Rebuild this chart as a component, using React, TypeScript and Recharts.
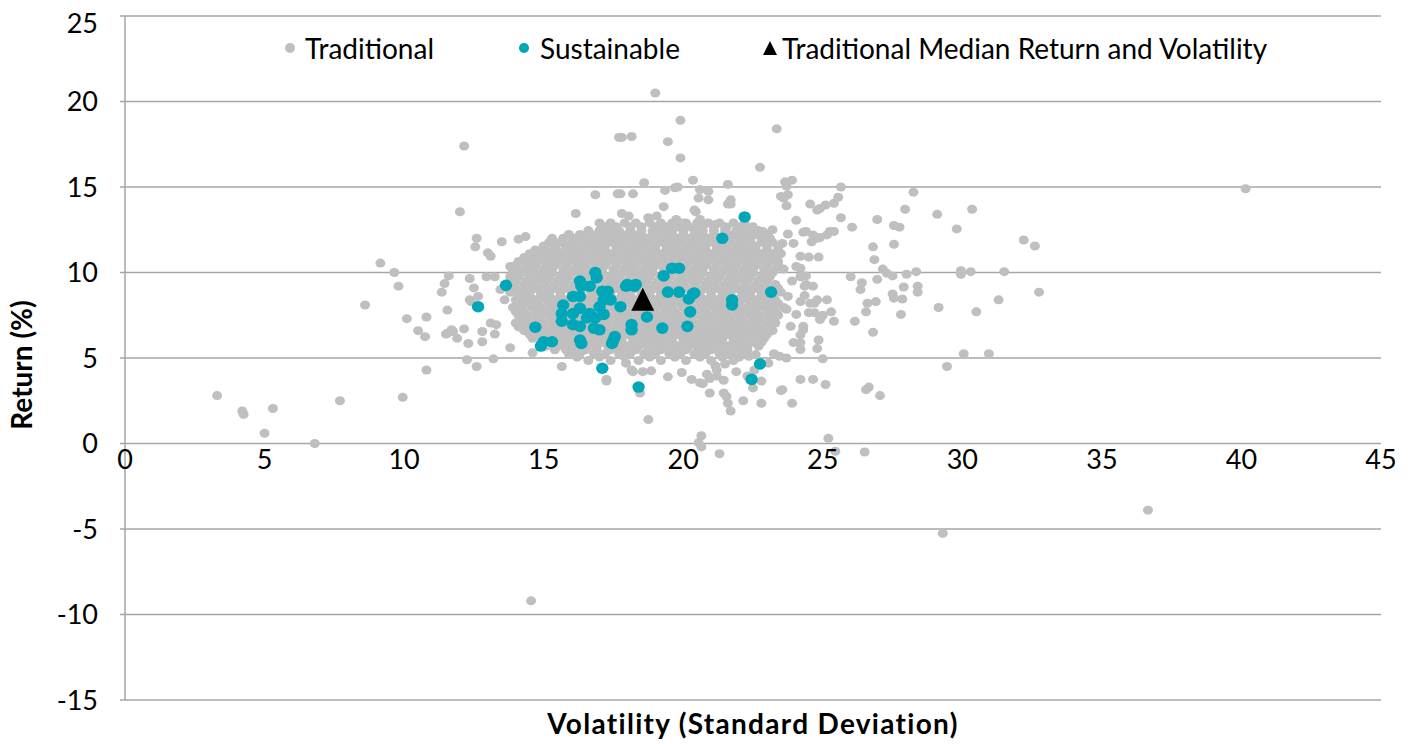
import React from "react";
import { ScatterChart, Scatter, XAxis, YAxis, CartesianGrid } from "recharts";

const FONT = "Lato, 'Open Sans', sans-serif";
const GRAY = "#bfbfbf";
const TEAL = "#00a7b8";
const GRID = "#a6a6a6";

const xTicks = [0, 5, 10, 15, 20, 25, 30, 35, 40, 45];
const yTicks = [-15, -10, -5, 0, 5, 10, 15, 20, 25];

// scattered traditional funds, read point by point
const traditionalOutliers: [number, number][] = [
  [3.3, 2.8], [4.2, 1.9], [4.25, 1.7], [5.3, 2.05], [5.0, 0.6], [6.8, 0.0], [7.7, 2.5], [9.95, 2.7],
  [10.8, 4.3], [8.6, 8.1], [9.15, 10.55], [9.65, 10.0], [9.8, 9.2], [10.1, 7.3], [10.8, 7.4],
  [10.5, 6.6], [10.75, 6.25], [11.55, 7.8], [11.6, 9.8], [11.45, 9.35], [11.35, 8.85], [11.5, 6.4],
  [11.7, 6.65], [11.9, 6.15], [12.15, 6.7], [12.3, 5.85], [12.25, 4.9], [12.6, 4.5], [12.35, 9.65],
  [12.5, 9.1], [12.35, 8.4], [12.55, 11.5], [12.6, 12.0], [12.15, 17.4], [12.0, 13.55], [13.5, 11.8],
  [14.1, 11.95], [14.35, 12.1], [16.15, 13.45], [16.85, 14.55], [17.7, 17.9], [17.65, 14.6],
  [12.65, 8.6], [12.4, 8.3], [12.95, 9.75], [13.25, 9.75], [13.45, 9.0], [13.6, 8.4], [11.55, 6.45],
  [11.75, 6.55], [12.8, 6.55], [13.3, 6.95], [13.1, 7.05], [12.8, 5.95], [13.25, 6.4], [13.8, 5.6],
  [13.2, 4.95], [14.6, 5.3], [15.65, 4.5], [17.25, 3.75], [17.95, 4.7], [18.2, 4.2],
  [13.0, 11.15], [13.1, 10.95], [13.8, 10.35], [14.1, 10.15], [14.5, 10.95], [14.85, 11.15],
  [15.15, 10.95], [15.45, 11.35], [15.8, 10.95], [15.95, 12.0], [16.3, 12.05], [16.65, 11.8],
  [19.3, 13.85], [20.4, 13.65],
  [19.0, 20.5], [19.9, 18.9], [17.8, 17.9], [18.15, 17.95], [19.45, 17.65], [19.9, 16.7], [23.35, 18.4],
  [22.75, 16.15], [18.6, 15.25], [20.35, 15.4], [21.6, 15.15], [17.75, 14.6], [18.2, 14.6],
  [19.35, 14.8], [19.8, 15.0], [20.6, 14.85], [20.9, 14.75], [20.55, 14.35], [20.9, 14.25],
  [21.7, 14.25], [21.6, 14.0], [23.9, 15.4], [23.7, 15.05], [23.75, 14.55], [23.6, 14.35],
  [23.7, 13.9], [24.55, 14.0], [24.8, 13.65], [25.1, 13.95], [25.4, 14.05], [25.55, 14.4],
  [25.65, 15.0], [25.65, 13.2], [24.05, 13.05], [17.8, 13.45], [18.05, 13.3], [18.75, 13.2],
  [19.05, 13.3], [20.45, 13.55], [19.7, 14.95], [21.7, 14.0], [23.5, 14.45], [24.9, 13.75],
  [19.75, 13.1], [20.1, 12.9], [20.6, 13.1], [21.15, 12.8], [21.55, 12.65], [22.0, 12.6],
  [22.4, 12.35], [22.85, 12.4], [23.2, 12.5],
  [28.25, 14.7], [27.95, 13.7], [29.1, 13.4], [30.35, 13.7], [26.95, 13.1], [26.05, 12.65],
  [27.55, 12.75], [27.75, 12.65], [29.8, 12.55], [32.2, 11.9], [32.6, 11.55], [24.4, 12.4],
  [24.65, 12.2], [24.8, 12.0], [24.6, 11.8], [25.15, 12.2], [25.4, 12.4], [26.8, 11.5], [27.55, 11.65],
  [26.85, 10.75], [24.2, 10.95], [24.5, 10.9], [24.85, 10.9], [24.2, 10.25], [27.15, 10.2],
  [27.3, 9.95], [27.5, 9.8], [28.0, 9.9], [28.35, 10.05], [29.95, 10.1], [29.95, 9.9], [30.3, 10.05],
  [31.5, 10.05], [26.0, 9.75], [24.4, 9.8], [26.95, 9.6], [26.4, 9.4], [26.35, 9.0], [27.9, 9.15],
  [28.4, 9.2], [28.4, 8.85], [27.5, 8.75], [27.55, 8.5], [27.85, 8.45], [24.4, 9.3], [24.65, 9.2],
  [24.35, 8.65], [24.7, 8.2], [25.15, 8.4], [26.9, 8.3], [26.6, 8.2], [26.55, 7.7], [27.8, 7.55],
  [29.15, 7.95], [30.5, 7.7], [31.3, 8.4], [32.75, 8.85], [24.7, 7.65], [25.0, 7.5], [25.3, 7.7],
  [25.4, 7.15], [26.15, 7.15], [24.3, 6.85], [26.8, 6.5], [24.2, 5.9], [24.85, 6.05], [24.8, 5.55],
  [25.0, 4.95], [30.05, 5.25], [30.95, 5.25], [29.45, 4.5], [24.65, 3.75], [25.1, 3.45],
  [26.55, 3.15], [26.65, 3.3], [27.05, 2.8], [40.15, 14.9], [36.65, -3.9], [29.3, -5.25], [14.55, -9.2],
  [23.65, 15.3], [24.3, 12.35], [24.9, 12.05], [25.25, 12.4], [23.75, 12.25], [23.55, 11.7],
  [23.95, 11.7], [24.05, 10.35], [24.2, 9.75], [23.9, 9.5], [24.35, 9.2], [23.75, 8.6], [24.2, 8.3],
  [24.55, 8.2], [24.8, 8.4], [23.7, 7.85], [24.05, 7.55], [24.5, 7.65], [24.9, 7.25], [23.85, 6.85],
  [24.2, 6.35], [24.3, 6.65], [23.95, 5.9], [24.2, 5.5], [23.45, 5.1], [23.7, 5.0],
  [20.65, 0.45], [20.55, 0.05], [20.65, -0.2], [21.3, -0.6], [25.2, 0.3], [25.45, -0.45], [26.5, -0.5],
  [18.75, 1.4], [21.7, 1.9], [21.6, 2.35], [21.55, 2.75], [21.45, 2.95], [22.15, 2.5], [22.8, 2.35],
  [23.9, 2.35], [23.5, 3.1], [20.95, 2.95], [20.7, 3.5], [20.3, 3.75], [19.95, 4.15], [19.45, 3.9],
  [20.85, 4.05], [21.2, 3.95], [21.45, 3.7], [21.9, 4.2], [22.5, 3.25], [22.8, 3.65], [21.15, 4.55],
  [21.5, 4.65], [18.45, 2.95], [17.25, 3.65], [18.15, 4.3], [18.55, 4.2], [18.85, 4.25],
  [20.6, 3.55], [20.95, 3.8], [21.2, 4.3], [22.3, 3.95], [22.55, 4.3], [23.55, 3.15], [24.2, 3.75],
  [23.05, 4.7], [23.25, 5.25], [22.35, 5.1], [22.6, 5.2],
];

// dense middle of the cloud, one row per return level
const traditionalCore: [number, number[]][] = [
  [12.9, [17.0, 17.4, 17.9, 18.3, 18.8, 19.2, 19.6, 20.0, 20.5, 20.9, 21.3, 21.8, 22.2]],
  [12.68, [17.2, 17.6, 18.1, 18.5, 19.0, 19.4, 19.8, 20.2, 20.7, 21.1, 21.5, 22.0, 22.5]],
  [12.45, [16.6, 17.0, 17.4, 17.7, 18.1, 18.5, 18.9, 19.2, 19.6, 20.0, 20.4, 20.7, 21.1, 21.5, 21.9, 22.3, 22.7]],
  [12.22, [15.9, 16.3, 16.7, 17.1, 17.4, 17.8, 18.2, 18.5, 18.9, 19.3, 19.6, 20.0, 20.4, 20.7, 21.1, 21.5, 21.8, 22.2, 22.6, 23.0]],
  [12.0, [15.3, 15.7, 16.1, 16.5, 16.9, 17.2, 17.6, 18.0, 18.3, 18.7, 19.1, 19.4, 19.8, 20.2, 20.5, 20.9, 21.3, 21.6, 22.0, 22.4, 22.8, 23.1]],
  [11.78, [15.2, 15.6, 16.0, 16.3, 16.7, 17.0, 17.4, 17.8, 18.1, 18.5, 18.8, 19.2, 19.6, 19.9, 20.3, 20.6, 21.0, 21.4, 21.7, 22.1, 22.4, 22.8, 23.2]],
  [11.55, [15.0, 15.4, 15.8, 16.1, 16.5, 16.8, 17.2, 17.6, 17.9, 18.3, 18.6, 19.0, 19.4, 19.7, 20.1, 20.4, 20.8, 21.2, 21.5, 21.9, 22.2, 22.6, 23.0, 23.4]],
  [11.32, [14.7, 15.1, 15.4, 15.8, 16.2, 16.5, 16.9, 17.2, 17.6, 18.0, 18.3, 18.7, 19.0, 19.4, 19.8, 20.1, 20.5, 20.8, 21.2, 21.6, 21.9, 22.3, 22.6, 23.0, 23.4]],
  [11.1, [14.5, 14.9, 15.2, 15.6, 16.0, 16.3, 16.7, 17.0, 17.4, 17.8, 18.1, 18.5, 18.8, 19.2, 19.6, 19.9, 20.3, 20.6, 21.0, 21.4, 21.7, 22.1, 22.4, 22.8, 23.2, 23.5]],
  [10.88, [14.3, 14.6, 15.0, 15.4, 15.7, 16.1, 16.4, 16.8, 17.2, 17.5, 17.9, 18.2, 18.6, 18.9, 19.3, 19.7, 20.0, 20.4, 20.7, 21.1, 21.5, 21.8, 22.2, 22.5, 22.9, 23.3]],
  [10.65, [14.1, 14.4, 14.8, 15.2, 15.5, 15.9, 16.2, 16.6, 17.0, 17.3, 17.7, 18.0, 18.4, 18.7, 19.1, 19.5, 19.8, 20.2, 20.5, 20.9, 21.3, 21.6, 22.0, 22.3, 22.7, 23.1, 23.4]],
  [10.42, [14.0, 14.4, 14.7, 15.1, 15.4, 15.8, 16.2, 16.5, 16.9, 17.2, 17.6, 18.0, 18.3, 18.7, 19.0, 19.4, 19.8, 20.1, 20.5, 20.8, 21.2, 21.6, 21.9, 22.3, 22.6, 23.0, 23.4]],
  [10.2, [13.9, 14.3, 14.6, 15.0, 15.3, 15.7, 16.1, 16.4, 16.8, 17.1, 17.5, 17.9, 18.2, 18.6, 18.9, 19.3, 19.7, 20.0, 20.4, 20.7, 21.1, 21.5, 21.8, 22.2, 22.5, 22.9, 23.3, 23.6]],
  [9.98, [13.9, 14.2, 14.6, 14.9, 15.3, 15.7, 16.0, 16.4, 16.7, 17.1, 17.5, 17.8, 18.2, 18.5, 18.9, 19.3, 19.6, 20.0, 20.3, 20.7, 21.1, 21.4, 21.8, 22.1, 22.5, 22.9, 23.2]],
  [9.75, [13.8, 14.1, 14.5, 14.9, 15.2, 15.6, 15.9, 16.3, 16.7, 17.0, 17.4, 17.7, 18.1, 18.5, 18.8, 19.2, 19.5, 19.9, 20.3, 20.6, 21.0, 21.3, 21.7, 22.1, 22.4, 22.8, 23.1]],
  [9.52, [14.0, 14.4, 14.7, 15.1, 15.5, 15.8, 16.2, 16.5, 16.9, 17.3, 17.6, 18.0, 18.3, 18.7, 19.1, 19.4, 19.8, 20.1, 20.5, 20.9, 21.2, 21.6, 21.9, 22.3, 22.7, 23.0]],
  [9.3, [13.9, 14.3, 14.6, 15.0, 15.4, 15.7, 16.1, 16.4, 16.8, 17.2, 17.5, 17.9, 18.2, 18.6, 19.0, 19.3, 19.7, 20.0, 20.4, 20.8, 21.1, 21.5, 21.8, 22.2, 22.6, 22.9, 23.3]],
  [9.08, [14.0, 14.4, 14.7, 15.1, 15.4, 15.8, 16.2, 16.5, 16.9, 17.2, 17.6, 18.0, 18.3, 18.7, 19.0, 19.4, 19.8, 20.1, 20.5, 20.8, 21.2, 21.6, 21.9, 22.3, 22.6, 23.0, 23.4]],
  [8.85, [13.8, 14.2, 14.5, 14.9, 15.2, 15.6, 16.0, 16.3, 16.7, 17.0, 17.4, 17.8, 18.1, 18.5, 18.8, 19.2, 19.6, 19.9, 20.3, 20.6, 21.0, 21.4, 21.7, 22.1, 22.4, 22.8, 23.2, 23.5]],
  [8.62, [14.1, 14.5, 14.9, 15.2, 15.6, 16.0, 16.3, 16.7, 17.0, 17.4, 17.8, 18.1, 18.5, 18.8, 19.2, 19.6, 19.9, 20.3, 20.6, 21.0, 21.4, 21.7, 22.1, 22.4, 22.8, 23.2]],
  [8.4, [14.0, 14.3, 14.7, 15.1, 15.4, 15.8, 16.1, 16.5, 16.9, 17.2, 17.6, 17.9, 18.3, 18.7, 19.0, 19.4, 19.7, 20.1, 20.5, 20.8, 21.2, 21.5, 21.9, 22.3, 22.6, 23.0, 23.3]],
  [8.18, [14.1, 14.5, 14.8, 15.2, 15.5, 15.9, 16.3, 16.6, 17.0, 17.3, 17.7, 18.1, 18.4, 18.8, 19.1, 19.5, 19.9, 20.2, 20.6, 20.9, 21.3, 21.7, 22.0, 22.4, 22.7, 23.1, 23.4]],
  [7.95, [13.9, 14.2, 14.6, 14.9, 15.3, 15.7, 16.0, 16.4, 16.7, 17.1, 17.5, 17.8, 18.2, 18.5, 18.9, 19.3, 19.6, 20.0, 20.3, 20.7, 21.1, 21.4, 21.8, 22.1, 22.5, 22.9, 23.2, 23.6]],
  [7.72, [14.0, 14.3, 14.7, 15.1, 15.4, 15.8, 16.1, 16.5, 16.9, 17.2, 17.6, 17.9, 18.3, 18.7, 19.0, 19.4, 19.7, 20.1, 20.5, 20.8, 21.2, 21.5, 21.9, 22.3, 22.6, 23.0, 23.3]],
  [7.5, [14.1, 14.4, 14.8, 15.2, 15.5, 15.9, 16.2, 16.6, 17.0, 17.3, 17.7, 18.0, 18.4, 18.8, 19.1, 19.5, 19.8, 20.2, 20.6, 20.9, 21.3, 21.6, 22.0, 22.4, 22.7, 23.1, 23.4]],
  [7.28, [14.2, 14.5, 14.9, 15.3, 15.6, 16.0, 16.3, 16.7, 17.1, 17.4, 17.8, 18.1, 18.5, 18.9, 19.2, 19.6, 19.9, 20.3, 20.7, 21.0, 21.4, 21.7, 22.1, 22.5, 22.8, 23.2]],
  [7.05, [14.0, 14.3, 14.7, 15.0, 15.4, 15.8, 16.1, 16.5, 16.8, 17.2, 17.6, 17.9, 18.3, 18.6, 19.0, 19.4, 19.7, 20.1, 20.4, 20.8, 21.2, 21.5, 21.9, 22.2, 22.6, 23.0, 23.3]],
  [6.82, [14.1, 14.5, 14.8, 15.2, 15.5, 15.9, 16.3, 16.6, 17.0, 17.3, 17.7, 18.1, 18.4, 18.8, 19.1, 19.5, 19.9, 20.2, 20.6, 20.9, 21.3, 21.7, 22.0, 22.4, 22.7, 23.1]],
  [6.6, [14.3, 14.6, 15.0, 15.3, 15.7, 16.1, 16.4, 16.8, 17.1, 17.5, 17.9, 18.2, 18.6, 18.9, 19.3, 19.7, 20.0, 20.4, 20.7, 21.1, 21.5, 21.8, 22.2, 22.5, 22.9, 23.2]],
  [6.38, [14.5, 14.8, 15.2, 15.5, 15.9, 16.2, 16.6, 17.0, 17.3, 17.7, 18.0, 18.4, 18.8, 19.1, 19.5, 19.8, 20.2, 20.6, 20.9, 21.3, 21.6, 22.0, 22.4, 22.7, 23.0]],
  [6.15, [14.6, 15.0, 15.3, 15.7, 16.0, 16.4, 16.8, 17.1, 17.5, 17.8, 18.2, 18.6, 18.9, 19.3, 19.6, 20.0, 20.4, 20.7, 21.1, 21.4, 21.8, 22.2, 22.5, 22.9]],
  [5.92, [14.9, 15.3, 15.6, 16.0, 16.4, 16.7, 17.1, 17.4, 17.8, 18.2, 18.5, 18.9, 19.2, 19.6, 20.0, 20.3, 20.7, 21.0, 21.4, 21.8, 22.1, 22.5, 22.8]],
  [5.7, [15.1, 15.5, 15.8, 16.2, 16.6, 16.9, 17.3, 17.6, 18.0, 18.4, 18.7, 19.1, 19.4, 19.8, 20.2, 20.5, 20.9, 21.2, 21.6, 22.0, 22.3, 22.7]],
  [5.48, [15.4, 15.8, 16.1, 16.5, 16.9, 17.4, 17.8, 18.3, 18.8, 19.2, 19.7, 20.1, 20.6, 21.0, 21.5, 21.9, 22.3]],
  [5.25, [15.9, 16.3, 16.8, 17.2, 17.7, 18.1, 18.6, 19.0, 19.5, 19.9, 20.4, 20.8, 21.3, 21.7, 22.1]],
  [5.05, [16.2, 17.0, 17.9, 18.8, 19.7, 20.6, 21.4, 22.0]],
  [4.85, [16.6, 17.4, 18.4, 19.2, 20.1, 21.0, 21.8]],
];

const sustainable: [number, number][] = [
  [12.65, 8.0], [13.65, 9.25], [14.7, 6.8], [15.0, 5.95], [15.3, 5.95], [14.9, 5.7],
  [16.85, 10.0], [16.9, 9.7], [16.3, 9.5], [16.35, 9.2], [16.65, 9.2], [16.05, 8.6], [16.3, 8.6],
  [17.1, 8.9], [17.3, 8.9], [17.15, 8.4], [17.4, 8.4], [17.0, 8.0], [15.7, 8.1], [15.65, 7.6],
  [16.05, 7.6], [16.3, 7.9], [16.65, 7.6], [16.85, 7.35], [16.55, 7.35], [17.15, 7.55], [15.65, 7.15],
  [16.05, 6.95], [16.3, 6.85], [16.8, 6.75], [17.0, 6.65], [17.75, 8.0], [17.95, 9.2], [18.25, 9.2],
  [18.7, 7.4], [18.15, 6.95], [18.15, 6.65], [16.3, 6.05], [16.35, 5.85], [17.5, 6.05], [17.45, 5.85],
  [17.55, 6.25], [17.1, 4.4], [18.4, 3.3], [19.3, 9.8], [19.6, 10.25], [19.85, 10.25], [19.45, 8.85],
  [19.85, 8.85], [20.2, 8.45], [20.35, 8.75], [20.25, 7.7], [20.15, 6.85], [19.25, 6.75], [22.2, 13.25],
  [21.4, 12.0], [23.15, 8.85], [21.75, 8.4], [21.75, 8.1], [20.4, 8.8], [22.45, 3.75], [22.75, 4.65],
  [18.0, 9.3], [18.3, 9.3],
];

const medianPoint: [number, number] = [18.55, 8.4];

const traditional = [
  ...traditionalOutliers.map(([x, y]) => ({ x, y })),
  ...traditionalCore.flatMap(([y, xs]) => xs.map((x) => ({ x, y }))),
];
const sustainableData = sustainable.map(([x, y]) => ({ x, y }));
const medianData = [{ x: medianPoint[0], y: medianPoint[1] }];
const xLabelData = xTicks.map((t) => ({ x: t, y: 0, label: String(t) }));

const GrayDot = (p: any) => <ellipse cx={p.cx} cy={p.cy} rx={5} ry={4.5} fill={GRAY} />;
const TealDot = (p: any) => <ellipse cx={p.cx} cy={p.cy} rx={6.2} ry={5.8} fill={TEAL} />;
const Triangle = (p: any) => (
  <polygon
    points={`${p.cx},${p.cy - 12} ${p.cx - 11.5},${p.cy + 11} ${p.cx + 11.5},${p.cy + 11}`}
    fill="#000"
  />
);
const XTickText = (p: any) => (
  <text x={p.cx} y={p.cy + 25} textAnchor="middle" fontSize={27} fontFamily={FONT} fill="#000">
    {p.payload.label}
  </text>
);

function XTitle({ viewBox }: any) {
  const vb = viewBox || { x: 117, y: 692, width: 1256 };
  return (
    <text
      x={vb.x + vb.width / 2}
      y={vb.y + 34}
      textAnchor="middle"
      fontSize={28}
      fontWeight="bold"
      letterSpacing={1.3}
      fontFamily={FONT}
      fill="#000"
    >
      Volatility (Standard Deviation)
    </text>
  );
}

function YTitle() {
  return (
    <text x={24} y={357} transform="rotate(-90 24 357)" textAnchor="middle" fontSize={28} fontWeight="bold" fontFamily={FONT} fill="#000">
      Return (%)
    </text>
  );
}

const legendText: React.CSSProperties = {
  position: "absolute",
  top: 24,
  height: 32,
  lineHeight: "32px",
  fontSize: 28,
  fontFamily: FONT,
  color: "#000",
  whiteSpace: "nowrap",
};

function ChartLegend() {
  return (
    <>
      <div style={{ position: "absolute", left: 277, top: 35, width: 10, height: 10, borderRadius: 5, background: GRAY }} />
      <div style={{ ...legendText, left: 297 }}>Traditional</div>
      <div style={{ position: "absolute", left: 511, top: 35, width: 10, height: 10, borderRadius: 5, background: TEAL }} />
      <div style={{ ...legendText, left: 532 }}>Sustainable</div>
      <svg style={{ position: "absolute", left: 754, top: 32 }} width={16} height={16}>
        <polygon points="8,1 1,15 15,15" fill="#000" />
      </svg>
      <div style={{ ...legendText, left: 774 }}>Traditional Median Return and Volatility</div>
    </>
  );
}

export default function App() {
  return (
    <div style={{ position: "relative", width: 1397, height: 736, background: "#fff" }}>
      <style>{`svg { overflow: visible; }`}</style>
      <ScatterChart width={1397} height={736} margin={{ top: 8, right: 24, bottom: 0, left: 0 }}>
        <CartesianGrid vertical={false} stroke={GRID} strokeWidth={1.5} />
        <XAxis
          type="number"
          dataKey="x"
          domain={[0, 45]}
          ticks={xTicks}
          tick={false}
          tickLine={false}
          axisLine={false}
          height={44}
          label={<XTitle />}
        />
        <YAxis
          type="number"
          dataKey="y"
          domain={[-15, 25]}
          ticks={yTicks}
          width={117}
          tickSize={5}
          tickMargin={22}
          axisLine={{ stroke: GRID, strokeWidth: 1.5 }}
          tickLine={{ stroke: GRID, strokeWidth: 1.5 }}
          tick={{ fontSize: 27, fontFamily: FONT, fill: "#000" }}
          label={<YTitle />}
        />
        <Scatter data={traditional} shape={GrayDot} isAnimationActive={false} />
        <Scatter data={sustainableData} shape={TealDot} isAnimationActive={false} />
        <Scatter data={medianData} shape={Triangle} isAnimationActive={false} />
        <Scatter data={xLabelData} shape={XTickText} isAnimationActive={false} />
      </ScatterChart>
      <ChartLegend />
    </div>
  );
}
